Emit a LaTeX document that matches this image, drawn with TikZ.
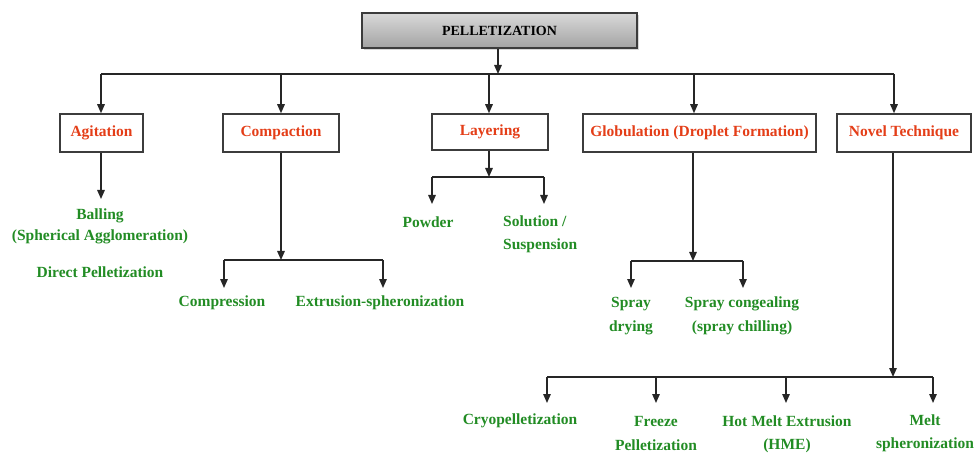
\documentclass[tikz,border=0pt]{standalone}
\usepackage{fontspec}
\setmainfont{Liberation Serif}
\usetikzlibrary{arrows.meta,shadows}
\definecolor{hred}{RGB}{228,62,24}
\definecolor{hgreen}{RGB}{34,140,36}
\definecolor{edge}{RGB}{60,60,60}
\tikzset{
  conn/.style={draw=black!85, line width=1.4pt},
  arr/.style={conn, -{Triangle[width=7.5pt,length=9pt]}},
  catbox/.style={draw=edge, line width=1.5pt, fill=white, text=hred, font=\fontsize{15.5}{18}\selectfont\bfseries, minimum height=38pt, inner sep=0pt},
  leaf/.style={text=hgreen, font=\fontsize{15.5}{23.5}\selectfont\bfseries, align=center, inner sep=0pt},
  titlebox/.style={draw=edge, line width=1.3pt, top color=gray!30, middle color=gray!4, bottom color=gray!72, drop shadow={shadow xshift=2pt, shadow yshift=-2pt, fill=gray!60}, font=\fontsize{14}{16}\selectfont\bfseries, minimum width=275pt, minimum height=35pt, inner sep=0pt}
}
\begin{document}
\begin{tikzpicture}[x=1pt,y=-1pt]
\useasboundingbox (0,0) rectangle (979,454);
% root
\node[titlebox] (root) at (499.5,30.5) {PELLETIZATION};
\coordinate (bus) at (498,74);
\coordinate (busl) at (101,74);
\coordinate (busr) at (894,74);
\draw[arr] (bus |- root.south) -- (bus);
\draw[conn] (busl) -- (busr);
% categories
\node[catbox, minimum width=83pt] (agit) at (101.5,133) {Agitation};
\node[catbox, minimum width=116pt] (comp) at (281,133) {Compaction};
\node[catbox, minimum width=116pt, minimum height=36pt] (lay) at (490,132) {Layering};
\node[catbox, minimum width=233pt] (glob) at (699.5,133) {Globulation (Droplet Formation)};
\node[catbox, minimum width=134pt] (novel) at (904,133) {Novel Technique};
\coordinate (ta) at (101,74);
\coordinate (tc) at (281,74);
\coordinate (tl) at (489,74);
\coordinate (tg) at (694,74);
\coordinate (tn) at (894,74);
\draw[arr] (ta) -- (ta |- agit.north);
\draw[arr] (tc) -- (tc |- comp.north);
\draw[arr] (tl) -- (tl |- lay.north);
\draw[arr] (tg) -- (tg |- glob.north);
\draw[arr] (tn) -- (tn |- novel.north);
% Agitation
\coordinate (aend) at (101,199);
\draw[arr] (aend |- agit.south) -- (aend);
\node[leaf, font=\fontsize{15.5}{21}\selectfont\bfseries] (ball) at (100,226.5) {Balling\\(Spherical Agglomeration)};
\node[leaf] (direct) at (100,272) {Direct Pelletization};
% Compaction
\coordinate (cj) at (281,260);
\coordinate (cl) at (224,260);
\coordinate (cr) at (383,260);
\coordinate (cle) at (224,288);
\coordinate (cre) at (383,288);
\draw[arr] (comp.south) -- (cj);
\draw[conn] (cl) -- (cr);
\draw[arr] (cl) -- (cle);
\draw[arr] (cr) -- (cre);
\node[leaf] (compr) at (222,303) {Compression};
\node[leaf] (extr) at (380,303) {Extrusion-spheronization};
% Layering
\coordinate (lj) at (489,177);
\coordinate (ll) at (432,177);
\coordinate (lr) at (544,177);
\coordinate (lle) at (432,204);
\coordinate (lre) at (544,204);
\draw[arr] (lay.south -| lj) -- (lj);
\draw[conn] (ll) -- (lr);
\draw[arr] (ll) -- (lle);
\draw[arr] (lr) -- (lre);
\node[leaf] (powder) at (428,222) {Powder};
\node[leaf, align=left, anchor=west] (sol) at (503,234.5) {Solution /\\Suspension};
% Globulation
\coordinate (gj) at (693,261);
\coordinate (gl) at (631,261);
\coordinate (gr) at (743,261);
\coordinate (gle) at (631,288);
\coordinate (gre) at (743,288);
\draw[arr] (glob.south -| gj) -- (gj);
\draw[conn] (gl) -- (gr);
\draw[arr] (gl) -- (gle);
\draw[arr] (gr) -- (gre);
\node[leaf] (sdry) at (631,316) {Spray\\drying};
\node[leaf] (scong) at (742,316) {Spray congealing\\(spray chilling)};
% Novel
\coordinate (nj) at (893,377);
\coordinate (n1) at (547,377);
\coordinate (n2) at (656,377);
\coordinate (n3) at (786,377);
\coordinate (n4) at (933,377);
\coordinate (n1e) at (547,403);
\coordinate (n2e) at (656,403);
\coordinate (n3e) at (786,403);
\coordinate (n4e) at (933,403);
\draw[arr] (novel.south -| nj) -- (nj);
\draw[conn] (n1) -- (n4);
\draw[arr] (n1) -- (n1e);
\draw[arr] (n2) -- (n2e);
\draw[arr] (n3) -- (n3e);
\draw[arr] (n4) -- (n4e);
\node[leaf] (cryo) at (520,421) {Cryopelletization};
\node[leaf] (freeze) at (656,433.5) {Freeze\\Pelletization};
\node[leaf] (hme) at (787,434.5) {Hot Melt Extrusion\\(HME)};
\node[leaf] (melt) at (925,433.5) {Melt\\spheronization};
\end{tikzpicture}
\end{document}
